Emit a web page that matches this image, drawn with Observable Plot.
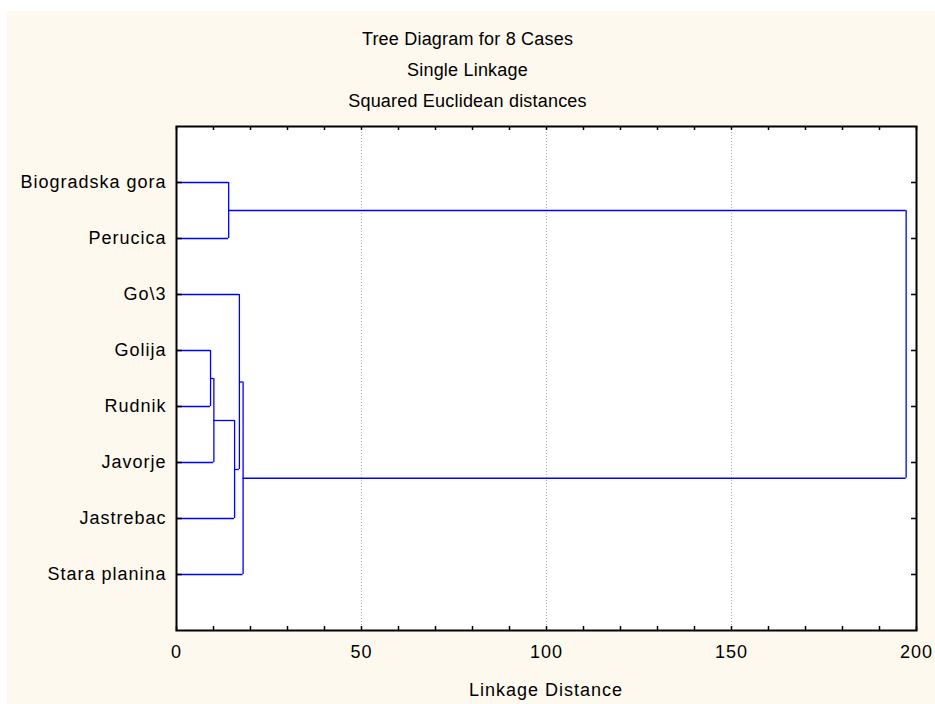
<!DOCTYPE html>
<html><head><meta charset="utf-8">
<script src="https://cdn.jsdelivr.net/npm/d3@7"></script>
<script src="https://cdn.jsdelivr.net/npm/@observablehq/plot@0.6"></script>
<style>
body{margin:0;background:#fff;width:935px;height:704px;position:relative;overflow:hidden;font-family:"Liberation Sans",Arial,sans-serif;}
#bg{position:absolute;left:7px;top:11px;right:0;bottom:0;background:#fef9ee;}
#chart{position:absolute;left:0;top:0;}
.t{position:absolute;left:0;width:935px;text-align:center;font-size:18px;line-height:31px;color:#000;letter-spacing:0.2px;white-space:nowrap;}
.xl{position:absolute;left:176px;width:740px;text-align:center;font-size:18px;line-height:31px;color:#000;letter-spacing:1px;white-space:nowrap;}
</style></head><body>
<div id="bg"></div>
<div id="chart"></div>
<div class="t" style="top:24px">Tree Diagram for 8 Cases</div>
<div class="t" style="top:55px">Single Linkage</div>
<div class="t" style="top:86px">Squared Euclidean distances</div>
<div class="xl" style="top:675px">Linkage Distance</div>
<script>
// Cases (leaves), top to bottom
const cases = ["Biogradska gora", "Perucica", "Go\\3", "Golija", "Rudnik", "Javorje", "Jastrebac", "Stara planina"];
// Merge steps: ids 0-7 are cases, 8+ are clusters created in this order
const mergeLeft = [3, 8, 0, 9, 2, 12, 10];
const mergeRight = [4, 5, 1, 6, 11, 7, 13];
const mergeDistance = [9.2, 10.1, 14.1, 15.7, 17.0, 18.0, 197.2];
// Axis ticks
const xTickLabels = [0, 50, 100, 150, 200];
const xMinorTicks = [0, 10, 20, 30, 40, 50, 60, 70, 80, 90, 100, 110, 120, 130, 140, 150, 160, 170, 180, 190, 200];
const xGridTicks = [50, 100, 150];

const leafPos = cases.map((_, i) => i + 1);
const nodeX = cases.map(() => 0);
const nodeY = leafPos.slice();
const hSegs = [], vSegs = [];
mergeDistance.forEach((h, k) => {
  const a = mergeLeft[k], b = mergeRight[k];
  for (const c of [a, b]) hSegs.push({x1: nodeX[c], x2: h, y: nodeY[c]});
  vSegs.push({x: h, y1: nodeY[a], y2: nodeY[b]});
  nodeX.push(h);
  nodeY.push((nodeY[a] + nodeY[b]) / 2);
});

const blue = "#0000ff";
const chart = Plot.plot({
  width: 935, height: 704,
  marginLeft: 176, marginRight: 19, marginTop: 126, marginBottom: 74,
  style: {background: "transparent", fontFamily: "'Liberation Sans', Arial, sans-serif", fontSize: "18px", color: "black", letterSpacing: "1px", overflow: "visible"},
  x: {domain: [0, 200]},
  y: {domain: [9, 0]},
  marks: [
    Plot.frame({fill: "white", stroke: null}),
    Plot.gridX(xGridTicks, {stroke: "#b0b0b0", strokeOpacity: 1, strokeDasharray: "1,2"}),
    Plot.ruleY(hSegs, {x1: "x1", x2: "x2", y: "y", stroke: blue, strokeWidth: 1.3}),
    Plot.ruleX(vSegs, {x: "x", y1: "y1", y2: "y2", stroke: blue, strokeWidth: 1.3}),
    Plot.axisY(leafPos, {anchor: "left", tickSize: 0, tickPadding: 10, tickFormat: i => cases[i - 1], label: null}),
    Plot.axisY(leafPos, {anchor: "right", frameAnchor: "left", tickSize: 5, tickFormat: () => "", label: null, strokeWidth: 1.5}),
    Plot.axisY(leafPos, {anchor: "left", frameAnchor: "right", tickSize: 5, tickFormat: () => "", label: null, strokeWidth: 1.5}),
    Plot.axisX(xTickLabels, {anchor: "bottom", tickSize: 0, tickPadding: 15, tickFormat: d => String(d), label: null}),
    Plot.axisX(xMinorTicks, {anchor: "top", frameAnchor: "bottom", tickSize: 5, tickFormat: () => "", label: null, strokeWidth: 1.5}),
    Plot.axisX(xMinorTicks, {anchor: "bottom", frameAnchor: "top", tickSize: 4, tickFormat: () => "", label: null, strokeWidth: 1.5}),
    Plot.frame({stroke: "black", strokeWidth: 2})
  ]
});
document.getElementById("chart").appendChild(chart);
</script>
</body></html>
